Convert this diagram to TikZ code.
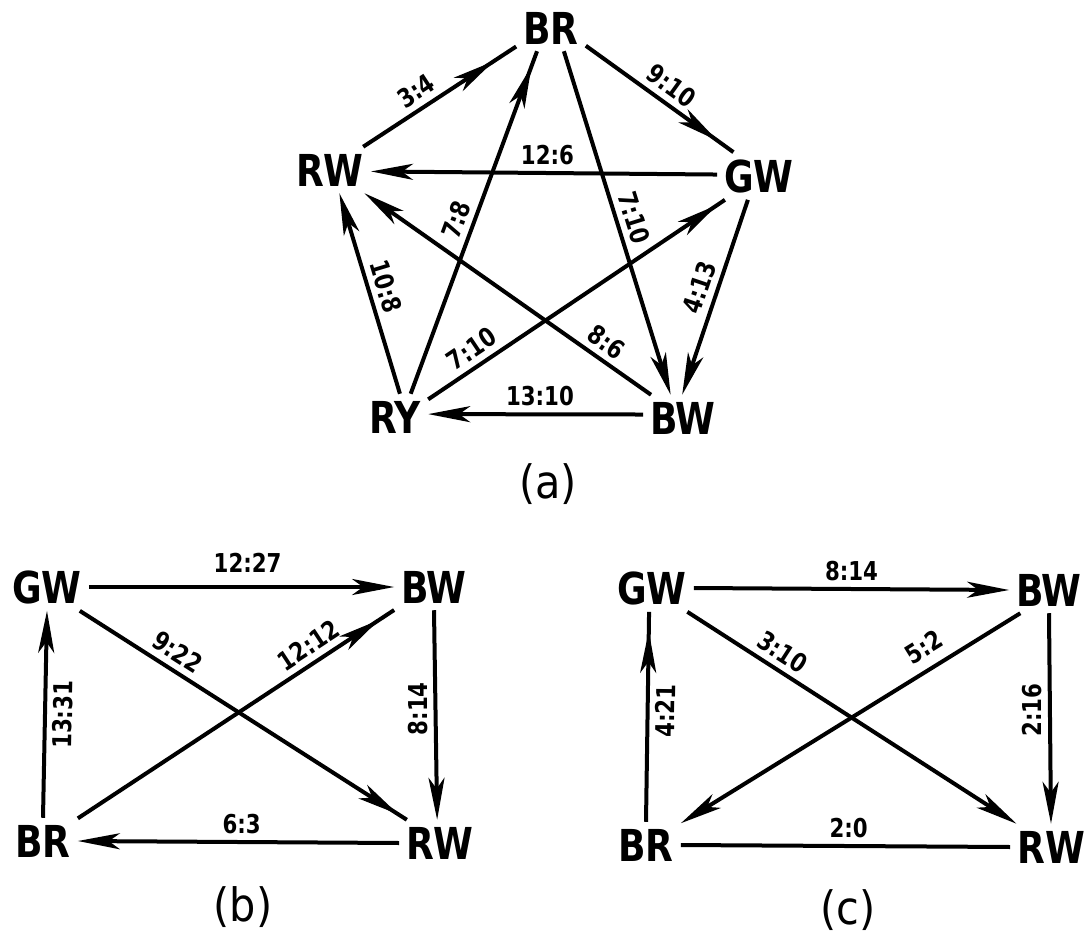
\documentclass[tikz,border=0pt]{standalone}
\usepackage{fontspec}
\newfontfamily\teamfont{DejaVu Sans}[FakeStretch=0.82]
\newfontfamily\scorefont{DejaVu Sans}[FakeStretch=0.82]
\newfontfamily\capfont{DejaVu Sans}[FakeStretch=0.9]
\usetikzlibrary{arrows.meta,decorations.markings}

\begin{document}
\begin{tikzpicture}[
  x=1pt, y=-1pt,
  >={Stealth[length=42pt,width=16pt,inset=11pt]},
  team/.style={font=\teamfont\bfseries\fontsize{44}{44}\selectfont,
               inner sep=7pt},
  score/.style={font=\scorefont\bfseries\fontsize{26}{26}\selectfont,
                inner sep=6pt},
  caption/.style={font=\capfont\fontsize{46}{46}\selectfont},
  game/.style={draw, line width=4pt, ->},
  gameb/.style={draw, line width=4pt,
                postaction={decorate, decoration={markings,
                  mark=at position -#1 with {\arrow{>}}}}}
]
\useasboundingbox (0,0) rectangle (1085,934);

% (a)
\node[team] (aBR) at (551,28)  {BR};
\node[team] (aGW) at (759,176) {GW};
\node[team] (aRW) at (330,170) {RW};
\node[team] (aRY) at (395,417) {RY};
\node[team] (aBW) at (683,418) {BW};
\node[caption] (capA) at (548,484) {(a)};

\draw[gameb=27pt] (aRW.35) -- node[score, sloped, above, pos=.41] {3:4} (aBR.208);
\draw[gameb=20pt] (aBR.-27) -- node[score, sloped, above, pos=.51] {9:10} (aGW.137);
\draw[gameb=16pt] (aRY.56) -- node[score, sloped, above, pos=.49] {7:8} (aBR.239);
\draw[game] (aBR.299) -- node[score, sloped, above, pos=.5] {7:10} (aBW.118);
\draw[game] (aGW.178) -- node[score, above, pos=.49] {12:6} (aRW.-2);
\draw[game] (aGW.245) -- node[score, sloped, above, pos=.48] {4:13} (aBW.92);
\draw[game] (aRY.78) -- node[score, sloped, above, pos=.51] {10:8} (aRW.292);
\draw[game] (aBW.144) -- node[score, sloped, above, pos=.19] {8:6} (aRW.326);
\draw[gameb=9pt] (aRY.28) -- node[score, sloped, above, pos=.18] {7:10} (aGW.215);
\draw[game] (aBW.175) -- node[score, above, pos=.48] {13:10} (aRY.5);

% (b)
\node[team] (bGW) at (47,587)  {GW};
\node[team] (bBW) at (434,587) {BW};
\node[team] (bBR) at (43,841)  {BR};
\node[team] (bRW) at (440,843) {RW};
\node[caption] (capB) at (243,907) {(b)};

\draw[game] (bGW.east) -- node[score, above=7pt, pos=.52] {12:27} (bBW.west);
\draw[gameb=10pt] (bGW.324) -- node[score, sloped, above, pos=.27] {9:22} (bRW.145);
\draw[gameb=18pt] (bBR.33) -- node[score, sloped, above, pos=.76] {12:12} (bBW.210);
\draw[game] (bBW.south) -- node[score, rotate=90, above, pos=.47] {8:14} (bRW.97);
\draw[game] (bBR.north) -- node[score, sloped, below, pos=.5] {13:31} (bGW.south);
\draw[game] (bRW.west) -- node[score, above, pos=.49] {6:3} (bBR.east);

% (c)
\node[team] (cGW) at (652,588)  {GW};
\node[team] (cBW) at (1049,590) {BW};
\node[team] (cBR) at (646,845)  {BR};
\node[team] (cRW) at (1051,847) {RW};
\node[caption] (capC) at (848,910) {(c)};

\draw[game] (cGW.east) -- node[score, above, pos=.5] {8:14} (cBW.west);
\draw[game] (cGW.326) -- node[score, sloped, above, pos=.26] {3:10} (cRW.146);
\draw[game] (cBW.219) -- node[score, sloped, above=4pt, pos=.25] {5:2} (cBR.32);
\draw[game] (cBW.south) -- node[score, rotate=90, above, pos=.46] {2:16} (cRW.north);
\draw[gameb=19pt] (cBR.north) -- node[score, sloped, below, pos=.53] {4:21} (cGW.263);
\draw[line width=4pt] (cBR.east) -- node[score, above, pos=.51] {2:0} (cRW.west);
\end{tikzpicture}
\end{document}
